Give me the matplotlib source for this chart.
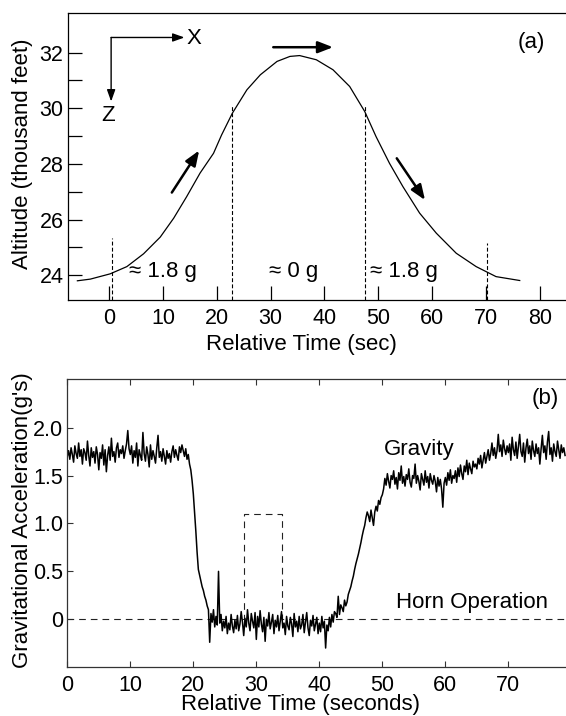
import numpy as np
import matplotlib
matplotlib.use('Agg')
import matplotlib.pyplot as plt

plt.rcParams['font.family'] = ['Liberation Sans', 'DejaVu Sans']

# (a) altitude profile of the parabolic flight
alt_t = [-5.9, -3.5, 0.2, 3.3, 6.4, 9.5, 12.0, 14.4, 16.9, 19.4, 20.9, 22.9, 25.6, 28.1, 31.2,
         33.6, 35.4, 38.5, 41.6, 44.7, 47.5, 49.6, 52.1, 54.6, 57.7, 60.8, 64.5, 68.2, 71.9, 76.3]
alt_kft = [23.80, 23.86, 24.05, 24.31, 24.77, 25.37, 26.05, 26.82, 27.67, 28.38, 29.04, 29.82, 30.66,
           31.20, 31.68, 31.86, 31.89, 31.74, 31.38, 30.78, 29.88, 28.98, 28.02, 27.18, 26.23, 25.51,
           24.79, 24.31, 23.95, 23.81]
phase_t = [0.5, 22.9, 47.5, 70.2]
phase_top = [25.33, 30.12, 30.12, 25.15]
phase_labels = ['≈ 1.8 g', '≈ 0 g', '≈ 1.8 g']
phase_label_t = [10.0, 34.3, 54.7]
alt_xticks = [0, 10, 20, 30, 40, 50, 60, 70, 80]
alt_yticks = [24, 26, 28, 30, 32]
alt_yminor = [25, 27, 29, 31]

# (b) measured gravity, one sample every 0.2 s (one row = 5 s)
grav = [
    1.70, 1.76, 1.67, 1.79, 1.72, 1.64, 1.81, 1.73, 1.68, 1.84, 1.70, 1.77, 1.62, 1.78, 1.74, 1.66, 1.86, 1.71, 1.60, 1.79, 1.69, 1.75, 1.63, 1.80, 1.72,
    1.56, 1.74, 1.68, 1.82, 1.61, 1.77, 1.54, 1.71, 1.80, 1.66, 1.89, 1.70, 1.75, 1.64, 1.79, 1.84, 1.69, 1.77, 1.73, 1.81, 1.68, 1.76, 1.83, 1.97, 1.78,
    1.72, 1.81, 1.63, 1.76, 1.69, 1.84, 1.60, 1.77, 1.71, 1.66, 1.95, 1.73, 1.65, 1.80, 1.72, 1.59, 1.82, 1.67, 1.76, 1.70, 1.63, 1.79, 1.92, 1.69, 1.75,
    1.65, 1.78, 1.70, 1.62, 1.76, 1.68, 1.73, 1.64, 1.75, 1.81, 1.69, 1.77, 1.71, 1.66, 1.80, 1.74, 1.82, 1.76, 1.70, 1.78, 1.67, 1.72, 1.62, 1.56, 1.45,
    1.31, 1.12, 0.92, 0.70, 0.52, 0.46, 0.40, 0.34, 0.30, 0.24, 0.20, 0.14, 0.10, -0.24, 0.06, -0.03, 0.10, -0.08, 0.03, -0.06, 0.50, -0.04, 0.05, -0.12, -0.02,
    -0.09, 0.03, -0.15, -0.04, -0.11, 0.05, -0.07, -0.14, -0.01, -0.10, 0.04, -0.12, -0.05, 0.08, -0.03, -0.17, 0.01, -0.08, 0.10, -0.04, -0.12, 0.06, -0.02, -0.09, 0.07,
    -0.21, 0.03, -0.08, 0.09, -0.05, -0.13, 0.02, -0.23, 0.00, -0.07, 0.07, -0.10, -0.03, 0.05, -0.15, -0.01, -0.08, 0.04, -0.12, -0.02, 0.08, -0.09, -0.04, -0.16, 0.03,
    -0.07, -0.11, 0.02, -0.05, -0.18, 0.06, -0.08, -0.02, -0.13, 0.03, -0.10, -0.06, 0.05, -0.14, -0.03, 0.07, -0.09, -0.17, -0.01, -0.07, 0.04, -0.12, -0.05, 0.02, -0.15,
    -0.04, -0.13, 0.03, -0.09, -0.02, -0.30, -0.06, -0.12, 0.02, -0.08, 0.05, -0.03, 0.08, 0.06, 0.02, 0.24, 0.05, 0.15, 0.12, 0.08, 0.20, 0.14, 0.18, 0.26, 0.30,
    0.34, 0.40, 0.45, 0.52, 0.58, 0.63, 0.68, 0.74, 0.80, 0.87, 0.93, 0.98, 1.06, 1.12, 1.08, 1.02, 1.14, 1.06, 0.98, 1.12, 1.18, 1.13, 1.24, 1.20, 1.27,
    1.30, 1.36, 1.47, 1.40, 1.52, 1.44, 1.37, 1.50, 1.46, 1.55, 1.41, 1.48, 1.36, 1.53, 1.45, 1.60, 1.42, 1.49, 1.39, 1.51, 1.46, 1.57, 1.43, 1.38, 1.50,
    1.47, 1.62, 1.42, 1.50, 1.44, 1.35, 1.52, 1.46, 1.40, 1.55, 1.43, 1.49, 1.37, 1.52, 1.45, 1.41, 1.50, 1.44, 1.33, 1.48, 1.39, 1.46, 1.36, 1.17, 1.42,
    1.48, 1.40, 1.53, 1.45, 1.56, 1.42, 1.50, 1.47, 1.55, 1.43, 1.58, 1.49, 1.61, 1.52, 1.46, 1.60, 1.54, 1.66, 1.51, 1.63, 1.57, 1.52, 1.65, 1.59, 1.62,
    1.57, 1.68, 1.62, 1.71, 1.58, 1.66, 1.74, 1.63, 1.70, 1.77, 1.66, 1.73, 1.84, 1.71, 1.79, 1.68, 1.76, 1.93, 1.75, 1.82, 1.70, 1.87, 1.78, 1.72, 1.81,
    1.74, 1.83, 1.66, 1.90, 1.77, 1.71, 1.85, 1.68, 1.80, 1.93, 1.75, 1.70, 1.84, 1.64, 1.79, 1.88, 1.73, 1.81, 1.67, 1.86, 1.76, 1.70, 1.83, 1.73, 1.79,
    1.62, 1.78, 1.92, 1.74, 1.81, 1.67, 1.85, 1.96, 1.72, 1.79, 1.65, 1.83, 1.75, 1.70, 1.86, 1.77, 1.68, 1.82, 1.74, 1.79, 1.71,
]
grav_t = np.arange(len(grav)) * 0.2
horn_t = [0, 28.1, 28.1, 34.1, 34.1, 79.2]
horn_level = [0, 0, 1.1, 1.1, 0, 0]
grav_xticks = [0, 10, 20, 30, 40, 50, 60, 70]
grav_yticks = [0, 0.5, 1.0, 1.5, 2.0]
grav_yticklabels = ['0', '0.5', '1.0', '1.5', '2.0']

fig = plt.figure(figsize=(5.66, 7.16), dpi=100)
W, H = 566, 716

# ---------------- panel (a)
ax1 = fig.add_axes([67.7 / W, 1 - 300 / H, 1 - 67.7 / W, (300 - 12.7) / H])
ax1.plot(alt_t, alt_kft, color='k', lw=0.9)
ax1.set_xlim(-7.7, 84.9)
ax1.set_ylim(23.11, 33.43)
ax1.vlines(phase_t, 23.11, phase_top, colors='k', lw=0.8, linestyles=[(0, (3.5, 2))])
for lbl, t in zip(phase_labels, phase_label_t):
    ax1.text(t, 23.94, lbl, ha='center', va='baseline', fontsize=16)

# axis frame sketch
frame = dict(arrowstyle='-|>,head_length=0.7,head_width=0.25', lw=1.0, color='k', shrinkA=0, shrinkB=0)
ax1.annotate('', xy=(14.0, 32.54), xytext=(0.37, 32.54), arrowprops=frame)
ax1.annotate('', xy=(0.37, 30.24), xytext=(0.37, 32.54), arrowprops=frame)
ax1.text(15.83, 32.49, 'X', ha='center', va='center', fontsize=16)
ax1.text(-0.12, 29.72, 'Z', ha='center', va='center', fontsize=16)

# direction of travel
travel = dict(arrowstyle='-|>,head_length=0.9,head_width=0.35', lw=1.8, color='k', shrinkA=0, shrinkB=0)
ax1.annotate('', xy=(16.73, 28.48), xytext=(11.65, 26.97), arrowprops=travel)
ax1.annotate('', xy=(41.6, 32.19), xytext=(30.5, 32.19), arrowprops=travel)
ax1.annotate('', xy=(58.7, 26.7), xytext=(53.45, 28.2), arrowprops=travel)
ax1.text(78.4, 32.35, '(a)', ha='center', va='center', fontsize=16)

ax1.set_xticks(alt_xticks)
ax1.set_yticks(alt_yticks)
ax1.set_yticks(alt_yminor, minor=True)
ax1.tick_params(axis='both', which='both', direction='in', length=10, width=0.9, labelsize=15.5)
ax1.tick_params(axis='x', pad=5.5)
ax1.tick_params(axis='y', pad=3)
ax1.spines['right'].set_visible(False)
for s in ['left', 'bottom', 'top']:
    ax1.spines[s].set_linewidth(0.9)
fig.text(301 / W, 1 - 350 / H, 'Relative Time (sec)', ha='center', va='baseline', fontsize=16)
fig.text(22.5 / W, 1 - 154.2 / H, 'Altitude (thousand feet)', ha='center', va='center',
         rotation=90, fontsize=16)

# ---------------- panel (b)
ax2 = fig.add_axes([67.3 / W, 1 - 666.7 / H, 1 - 67.3 / W, (666.7 - 379) / H])
ax2.plot(horn_t, horn_level, color='#222222', lw=0.8, linestyle=(0, (6, 4.5)))
ax2.plot(grav_t, grav, color='k', lw=1.1)
ax2.set_xlim(0, 79.15)
ax2.set_ylim(-0.495, 2.508)
ax2.text(55.9, 1.715, 'Gravity', ha='center', va='baseline', fontsize=16)
ax2.text(64.2, 0.115, 'Horn Operation', ha='center', va='baseline', fontsize=16)
ax2.text(75.8, 2.306, '(b)', ha='center', va='center', fontsize=16)

ax2.set_xticks(grav_xticks)
ax2.set_yticks(grav_yticks)
ax2.set_yticklabels(grav_yticklabels)
ax2.tick_params(axis='both', direction='in', length=4, width=0.8, labelsize=15.5, color='#333333')
ax2.tick_params(axis='x', top=True, pad=6)
ax2.tick_params(axis='y', pad=3)
ax2.spines['right'].set_visible(False)
for s in ['left', 'bottom', 'top']:
    ax2.spines[s].set_linewidth(0.9)
    ax2.spines[s].set_color('#333333')
fig.text(300.7 / W, 1 - 710 / H, 'Relative Time (seconds)', ha='center', va='baseline', fontsize=16)
fig.text(22.5 / W, 1 - 520.5 / H, "Gravitational Acceleration(g's)", ha='center', va='center',
         rotation=90, fontsize=16)

fig.savefig('out.png', dpi=100)
